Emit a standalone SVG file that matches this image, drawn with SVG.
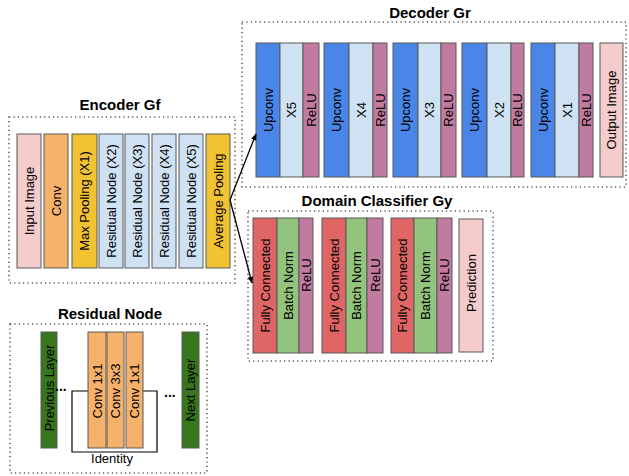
<svg xmlns="http://www.w3.org/2000/svg" width="629" height="476" viewBox="0 0 629 476">
<style>
text{font-family:"Liberation Sans",Arial,sans-serif;fill:#000}
.t{font-size:15px;font-weight:bold;text-anchor:middle}
.l{font-size:13px;text-anchor:middle;dominant-baseline:central}
.b{stroke:#595959;stroke-width:1}
.frame{fill:none;stroke:#555;stroke-width:1.6;stroke-dasharray:1.2 3.2}
.pink{fill:#f4cccc}.orange{fill:#f6b26b}.yellow{fill:#f1c232}.lblue{fill:#cfe2f3}
.blue{fill:#4a86e8}.relu{fill:#c27ba0}.red{fill:#e06666}.green{fill:#93c47d}.dgreen{fill:#38761d}
</style>
<defs>
<marker id="ah" viewBox="0 0 10 10" refX="9" refY="5" markerWidth="7" markerHeight="7" orient="auto" markerUnits="userSpaceOnUse">
<path d="M0,1 L10,5 L0,9 z" fill="#000"/>
</marker>
</defs>

<g id="encoder">
<text class="t" x="120" y="110">Encoder Gf</text>
<rect class="frame" x="9" y="117" width="226" height="166"/>
<g id="enc-input"><rect class="b pink" x="17" y="134" width="24" height="134"/><text class="l" transform="translate(29,201) rotate(-90)">Input Image</text></g>
<g id="enc-conv"><rect class="b orange" x="44" y="134" width="24" height="134"/><text class="l" transform="translate(56,201) rotate(-90)">Conv</text></g>
<g id="enc-maxpool"><rect class="b yellow" x="72" y="134" width="25" height="134"/><text class="l" transform="translate(84.5,201) rotate(-90)">Max Pooling (X1)</text></g>
<g id="enc-res2"><rect class="b lblue" x="99" y="134" width="24" height="134"/><text class="l" transform="translate(111,201) rotate(-90)">Residual Node (X2)</text></g>
<g id="enc-res3"><rect class="b lblue" x="125" y="134" width="24" height="134"/><text class="l" transform="translate(137,201) rotate(-90)">Residual Node (X3)</text></g>
<g id="enc-res4"><rect class="b lblue" x="152" y="134" width="24" height="134"/><text class="l" transform="translate(164,201) rotate(-90)">Residual Node (X4)</text></g>
<g id="enc-res5"><rect class="b lblue" x="179" y="134" width="24" height="134"/><text class="l" transform="translate(191,201) rotate(-90)">Residual Node (X5)</text></g>
<g id="enc-avgpool"><rect class="b yellow" x="206" y="134" width="24" height="134"/><text class="l" transform="translate(218,201) rotate(-90)">Average Pooling</text></g>
</g>

<g id="decoder">
<text class="t" x="430" y="18">Decoder Gr</text>
<rect class="frame" x="242" y="22" width="384" height="165"/>
<g id="dec-1">
<rect class="b blue" x="256" y="43" width="24" height="134"/><text class="l" transform="translate(268,110) rotate(-90)">Upconv</text>
<rect class="b lblue" x="280" y="43" width="23" height="134"/><text class="l" transform="translate(291.5,110) rotate(-90)">X5</text>
<rect class="b relu" x="303" y="43" width="16" height="134"/><text class="l" transform="translate(311,110) rotate(-90)">ReLU</text>
</g>
<g id="dec-2">
<rect class="b blue" x="324" y="43" width="25" height="134"/><text class="l" transform="translate(336.5,110) rotate(-90)">Upconv</text>
<rect class="b lblue" x="349" y="43" width="24" height="134"/><text class="l" transform="translate(361,110) rotate(-90)">X4</text>
<rect class="b relu" x="373" y="43" width="14" height="134"/><text class="l" transform="translate(380,110) rotate(-90)">ReLU</text>
</g>
<g id="dec-3">
<rect class="b blue" x="393" y="43" width="25" height="134"/><text class="l" transform="translate(405.5,110) rotate(-90)">Upconv</text>
<rect class="b lblue" x="418" y="43" width="23" height="134"/><text class="l" transform="translate(429.5,110) rotate(-90)">X3</text>
<rect class="b relu" x="441" y="43" width="15" height="134"/><text class="l" transform="translate(448.5,110) rotate(-90)">ReLU</text>
</g>
<g id="dec-4">
<rect class="b blue" x="462" y="43" width="25" height="134"/><text class="l" transform="translate(474.5,110) rotate(-90)">Upconv</text>
<rect class="b lblue" x="487" y="43" width="24" height="134"/><text class="l" transform="translate(499,110) rotate(-90)">X2</text>
<rect class="b relu" x="511" y="43" width="13" height="134"/><text class="l" transform="translate(517.5,110) rotate(-90)">ReLU</text>
</g>
<g id="dec-5">
<rect class="b blue" x="531" y="43" width="24" height="134"/><text class="l" transform="translate(543,110) rotate(-90)">Upconv</text>
<rect class="b lblue" x="555" y="43" width="24" height="134"/><text class="l" transform="translate(567,110) rotate(-90)">X1</text>
<rect class="b relu" x="579" y="43" width="14" height="134"/><text class="l" transform="translate(586,110) rotate(-90)">ReLU</text>
</g>
<g id="dec-output"><rect class="b pink" x="600" y="43" width="23" height="134"/><text class="l" transform="translate(611.5,110) rotate(-90)">Output Image</text></g>
</g>

<g id="classifier">
<text class="t" x="377" y="206">Domain Classifier Gy</text>
<rect class="frame" x="248" y="211" width="245" height="150"/>
<g id="cls-1">
<rect class="b red" x="253" y="218" width="24" height="135"/><text class="l" transform="translate(265,285.5) rotate(-90)">Fully Connected</text>
<rect class="b green" x="277" y="218" width="22" height="135"/><text class="l" transform="translate(288,285.5) rotate(-90)">Batch Norm</text>
<rect class="b relu" x="299" y="218" width="14" height="135"/><text class="l" transform="translate(306,275) rotate(-90)">ReLU</text>
</g>
<g id="cls-2">
<rect class="b red" x="322" y="218" width="24" height="135"/><text class="l" transform="translate(334,285.5) rotate(-90)">Fully Connected</text>
<rect class="b green" x="346" y="218" width="21" height="135"/><text class="l" transform="translate(356.5,285.5) rotate(-90)">Batch Norm</text>
<rect class="b relu" x="367" y="218" width="16" height="135"/><text class="l" transform="translate(375,275) rotate(-90)">ReLU</text>
</g>
<g id="cls-3">
<rect class="b red" x="391" y="218" width="23" height="135"/><text class="l" transform="translate(402.5,285.5) rotate(-90)">Fully Connected</text>
<rect class="b green" x="414" y="218" width="23" height="135"/><text class="l" transform="translate(425.5,285.5) rotate(-90)">Batch Norm</text>
<rect class="b relu" x="437" y="218" width="15" height="135"/><text class="l" transform="translate(444.5,275) rotate(-90)">ReLU</text>
</g>
<g id="cls-pred"><rect class="b pink" x="459" y="219" width="24" height="133"/><text class="l" transform="translate(471,283) rotate(-90)">Prediction</text></g>
</g>

<g id="residual">
<text class="t" x="110" y="319">Residual Node</text>
<rect class="frame" x="10" y="324" width="197" height="149"/>
<path d="M92,391 H72 V452 H157 V391 H140" fill="none" stroke="#000" stroke-width="1.2"/>
<g id="res-prev"><rect class="b dgreen" x="41" y="332" width="16" height="116"/><text class="l" transform="translate(49,388) rotate(-90)">Previous Layer</text></g>
<g id="res-conv1"><rect class="b orange" x="88" y="332" width="18" height="116"/><text class="l" transform="translate(97,391) rotate(-90)">Conv 1x1</text></g>
<g id="res-conv2"><rect class="b orange" x="107" y="332" width="17" height="116"/><text class="l" transform="translate(115.5,391) rotate(-90)">Conv 3x3</text></g>
<g id="res-conv3"><rect class="b orange" x="126" y="332" width="17" height="116"/><text class="l" transform="translate(134.5,391) rotate(-90)">Conv 1x1</text></g>
<g id="res-next"><rect class="b dgreen" x="182" y="332" width="17" height="116"/><text class="l" transform="translate(190.5,390) rotate(-90)">Next Layer</text></g>
<text x="55" y="391" style="font-size:14px;font-weight:bold">...</text>
<text x="164" y="397" style="font-size:14px;font-weight:bold">...</text>
<text x="112" y="463" style="font-size:13px;text-anchor:middle">Identity</text>
</g>

<g id="connectors" fill="none" stroke="#000" stroke-width="1.3">
<line x1="230" y1="200" x2="256" y2="134" marker-end="url(#ah)"/>
<line x1="230" y1="200" x2="252" y2="283" marker-end="url(#ah)"/>
</g>
</svg>
